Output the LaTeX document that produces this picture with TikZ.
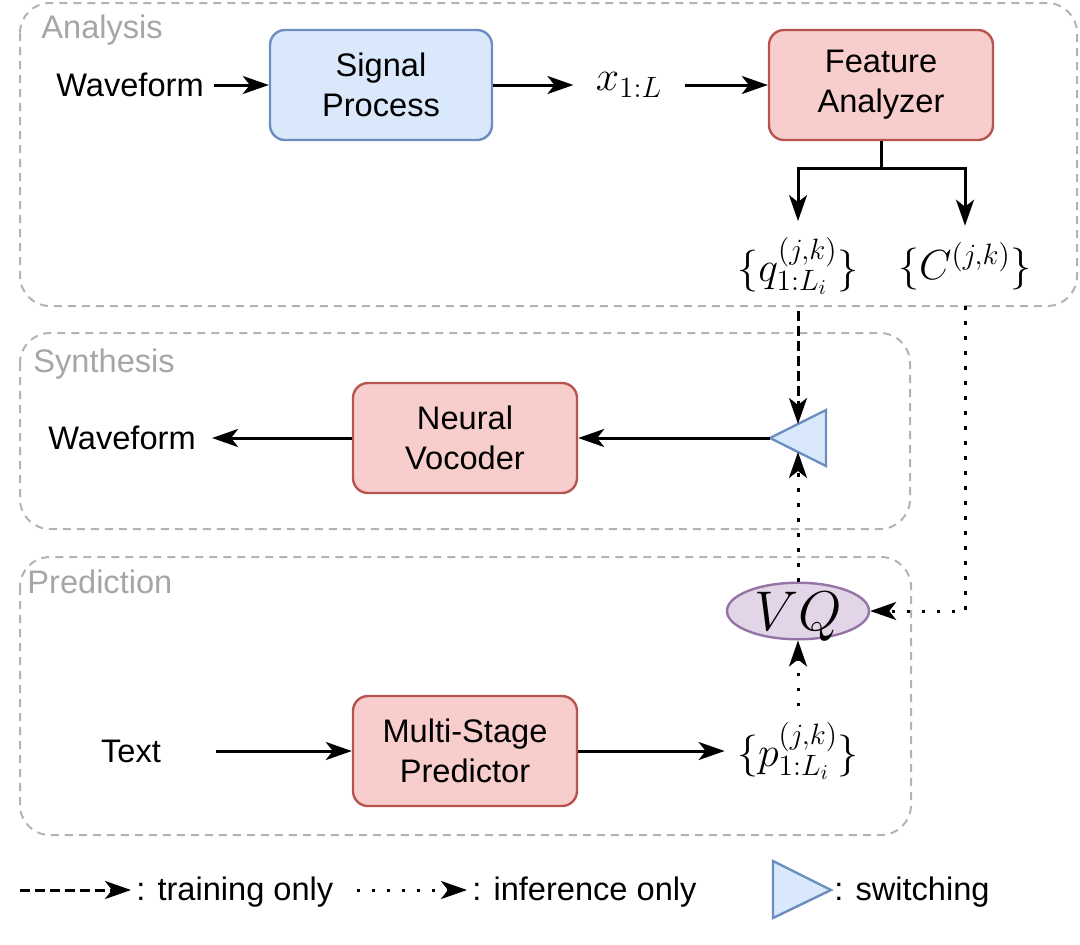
\documentclass[tikz,border=0pt]{standalone}
\usepackage[no-math]{fontspec}
\setmainfont{Liberation Sans}
\DeclareFontShape{OML}{cmm}{m}{it}{<-6>cmmi5<6-7>cmmi6<7-8>cmmi7<8-9>cmmi8<9-10>cmmi9<10-12>cmmi10<12->cmmi12}{}
\DeclareFontShape{OMS}{cmsy}{m}{n}{<-6>cmsy5<6-7>cmsy6<7-8>cmsy7<8-9>cmsy8<9-10>cmsy9<10->cmsy10}{}
\DeclareFontShape{OT1}{cmr}{m}{n}{<-6>cmr5<6-7>cmr6<7-8>cmr7<8-9>cmr8<9-10>cmr9<10-12>cmr10<12-17>cmr12<17->cmr17}{}
\usepackage{tikz}
\usetikzlibrary{shapes.geometric, arrows.meta}
\definecolor{procfill}{HTML}{DAE8FC}
\definecolor{procline}{HTML}{6C8EBF}
\definecolor{modfill}{HTML}{F8CECC}
\definecolor{modline}{HTML}{B85450}
\definecolor{vqfill}{HTML}{E1D5E7}
\definecolor{vqline}{HTML}{9673A6}
\definecolor{groupline}{HTML}{B3B3B3}
\definecolor{titlegray}{HTML}{A6A6A6}
\newcommand{\txtsize}{\fontsize{16.3}{20}\selectfont}
\newcommand{\eqsize}{\fontsize{21}{25}\selectfont}
\newcommand{\vqsize}{\fontsize{28}{32}\selectfont}
\tikzstyle{process}=[rectangle, rounded corners=7.5pt, minimum width=111pt, minimum height=55pt, align=center, draw=procline, fill=procfill, line width=1.2pt, font=\txtsize]
\tikzstyle{module}=[rectangle, rounded corners=7.5pt, minimum width=112pt, minimum height=55pt, align=center, draw=modline, fill=modfill, line width=1.2pt, font=\txtsize]
\tikzstyle{quant}=[ellipse, minimum width=71pt, minimum height=28pt, inner sep=0pt, text height=19.5pt, text depth=0.5pt, draw=vqline, fill=vqfill, line width=1.2pt, font=\vqsize]
\tikzstyle{switchtri}=[draw=procline, fill=procfill, line width=1.2pt, line join=miter]
\tikzstyle{txt}=[font=\txtsize]
\tikzstyle{eq}=[font=\eqsize, inner ysep=8pt]
\tikzstyle{keytxt}=[anchor=base west, inner sep=0pt, font=\txtsize]
\tikzstyle{group}=[draw=groupline, line width=1pt, dash pattern=on 4pt off 3pt, rounded corners=15pt]
\tikzstyle{grouptitle}=[anchor=base west, inner sep=0pt, text=titlegray, font=\txtsize]
\tikzstyle{arrow}=[line width=1.5pt, -{Stealth[length=13pt, width=9pt, inset=3.5pt]}]
\tikzstyle{trainarrow}=[arrow, dash pattern=on 5pt off 2.5pt]
\tikzstyle{inferarrow}=[arrow, dash pattern=on 1.6pt off 5.9pt]

\begin{document}
\begin{tikzpicture}[x=0.5pt, y=-0.5pt]
		\useasboundingbox (0,0) rectangle (1080,944);
		% groups
		\draw[group] (20,3) rectangle (1077,306);
		\draw[group] (20,333) rectangle (910,529);
		\draw[group] (20,557) rectangle (911,835);
		\node (analysislbl) [grouptitle] at (41,38) {Analysis};
		\node (synthesislbl) [grouptitle] at (33,372) {Synthesis};
		\node (predictionlbl) [grouptitle] at (27,593) {Prediction};
		
		% analysis
		\node (wavein) [txt, inner xsep=5pt] at (130,85) {Waveform};
		\node (sigproc) [process] at (381,85) {Signal\\Process};
		\node (xseq) [eq, inner xsep=11pt] at (629,85) {$x_{1:L}$};
		\node (featana) [module] at (881,85) {Feature\\Analyzer};
		\coordinate (split) at (881,168);
		\node (qlab) [eq] at (798,266) {$\{q^{(j,k)}_{1:L_i}\}$};
		\node (clab) [eq] at (965,266) {$\{C^{(j,k)}\}$};
		
		\draw [arrow] (wavein) -- (sigproc);
		\draw [arrow] (sigproc) -- (xseq);
		\draw [arrow] (xseq) -- (featana);
		\draw [arrow] (featana) -- (split) -| (qlab);
		\draw [arrow] (split) -| (clab);
		
		% synthesis
		\coordinate (swtip) at (770,438);
		\coordinate (swtop) at (798,424);
		\coordinate (swbot) at (798,452);
		\draw[switchtri] (swtip) -- (826,410) -- (826,466) -- cycle;
		\node (vocoder) [module] at (465,438) {Neural\\Vocoder};
		\node (waveout) [txt, inner xsep=8pt] at (122,438) {Waveform};
		
		\draw [arrow] (swtip) -- (vocoder);
		\draw [arrow] (vocoder) -- (waveout);
		\draw [trainarrow] (qlab) -- (swtop);
		
		% prediction
		\node (vq) [quant] at (798,611) {$VQ$};
		\node (textin) [txt, minimum width=85pt, inner sep=0pt] at (131,751) {Text};
		\node (predictor) [module] at (465,751) {Multi-Stage\\Predictor};
		\node (plab) [eq, inner xsep=6pt] at (798,751) {$\{p^{(j,k)}_{1:L_i}\}$};
		
		\draw [arrow] (textin) -- (predictor);
		\draw [arrow] (predictor) -- (plab);
		\draw [inferarrow] (plab) -- (vq);
		\draw [inferarrow] (vq) -- (swbot);
		\draw [inferarrow] (clab) |- (vq);
		
		% legend
		\coordinate (trainfrom) at (20,890);
		\coordinate (trainto) at (131,890);
		\coordinate (inferfrom) at (357,890);
		\coordinate (inferto) at (467,890);
		\draw [trainarrow] (trainfrom) -- (trainto);
		\node (trainkey) [keytxt] at (136,900) {: training only};
		\draw [inferarrow] (inferfrom) -- (inferto);
		\node (inferkey) [keytxt] at (472,900) {: inference only};
		\draw[switchtri] (773,861) -- (831,890) -- (773,918) -- cycle;
		\node (switchkey) [keytxt] at (834,900) {: switching};
	\end{tikzpicture}
\end{document}
